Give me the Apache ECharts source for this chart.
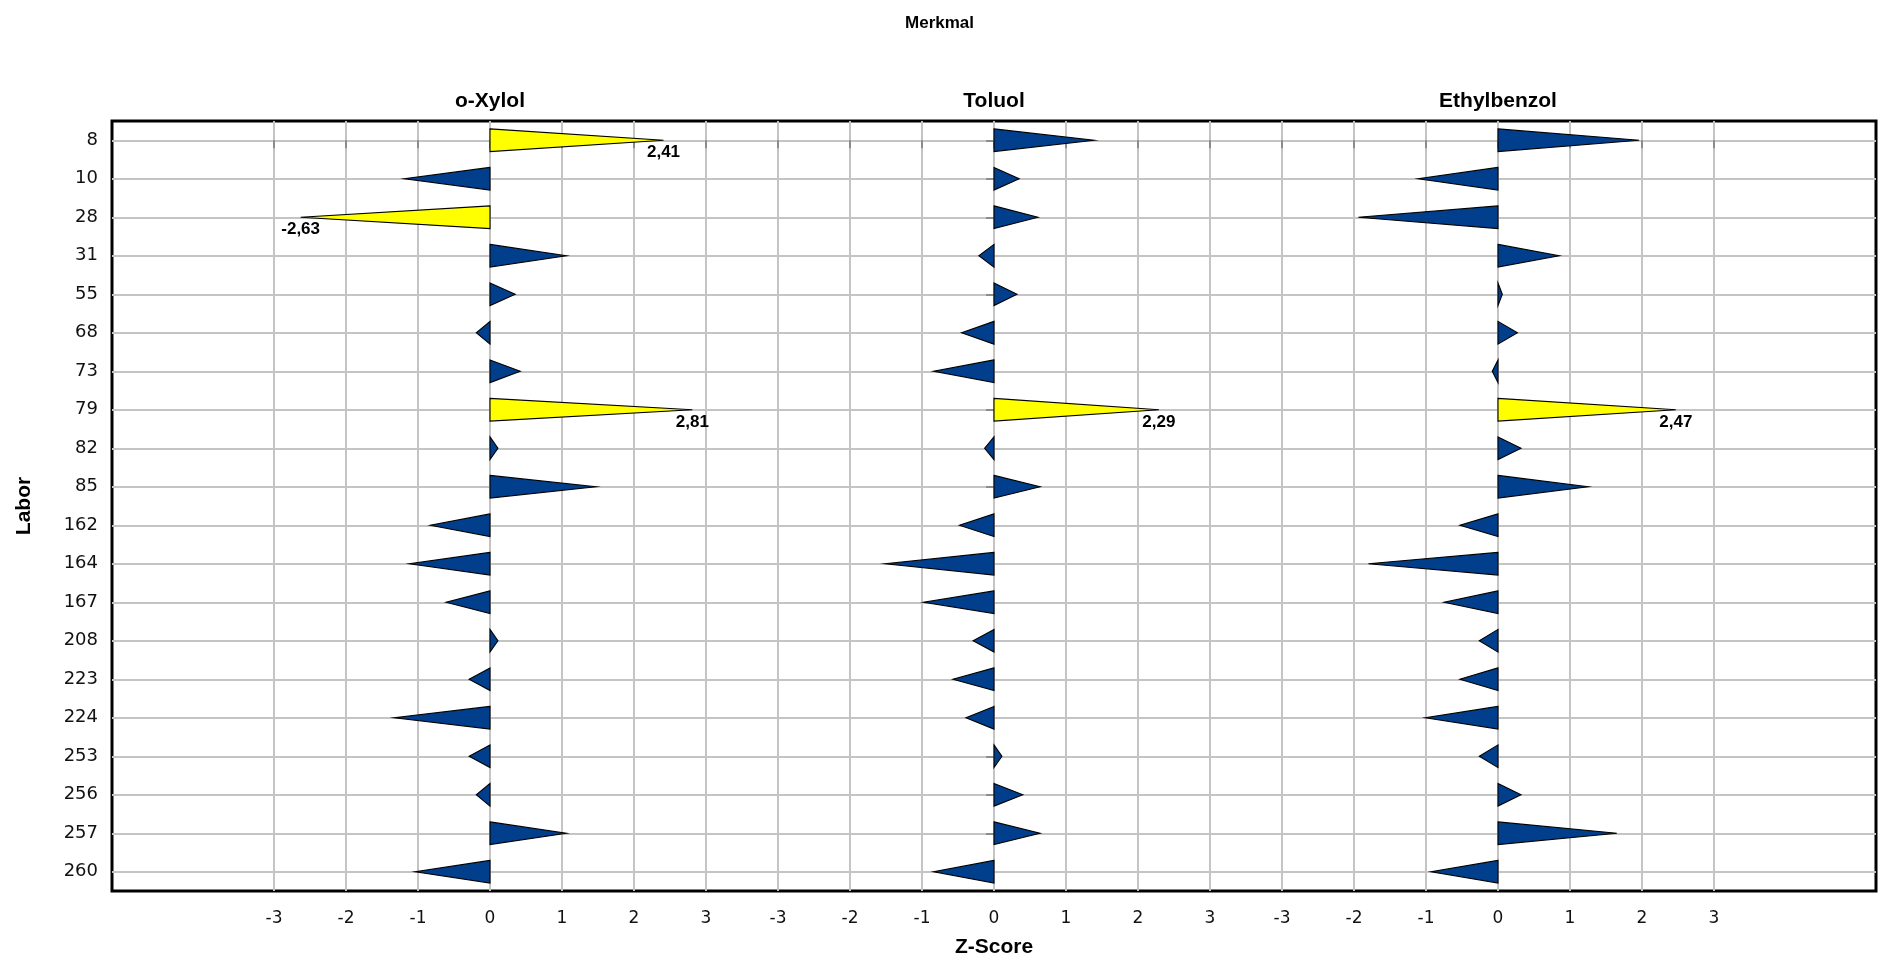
<!DOCTYPE html>
<html>
<head>
<meta charset="utf-8">
<title>Z-Score je Labor und Merkmal</title>
<script src="https://cdn.jsdelivr.net/npm/echarts@6/dist/echarts.min.js"></script>
<style>
  html, body { margin: 0; padding: 0; background: #ffffff; }
  #chart { width: 1879px; height: 964px; }
</style>
</head>
<body>
<div id="chart"></div>
<script>
// Laboratories (rows, top to bottom)
const labs = ['8', '10', '28', '31', '55', '68', '73', '79', '82', '85',
              '162', '164', '167', '208', '223', '224', '253', '256', '257', '260'];

// Feature names, one panel each
const merkmale = ['o-Xylol', 'Toluol', 'Ethylbenzol'];

// Z-scores per feature, same order as labs
const zXylol   = [2.41, -1.19, -2.63, 1.06, 0.35, -0.19, 0.42, 2.81, 0.11, 1.47,
                  -0.83, -1.12, -0.61, 0.11, -0.29, -1.33, -0.29, -0.19, 1.06, -1.04];
const zToluol  = [1.39, 0.35, 0.61, -0.21, 0.32, -0.45, -0.84, 2.29, -0.13, 0.64,
                  -0.48, -1.51, -0.98, -0.29, -0.57, -0.39, 0.11, 0.40, 0.64, -0.84];
const zEthyl   = [1.96, -1.11, -1.94, 0.85, 0.06, 0.27, -0.08, 2.47, 0.32, 1.25,
                  -0.53, -1.80, -0.75, -0.26, -0.53, -1.01, -0.26, 0.32, 1.65, -0.93];

// Tick labels repeated in every panel
const zTicks = ['-3', '-2', '-1', '0', '1', '2', '3'];

// Each panel occupies 7 units of one shared value axis; its zero sits at the centre
const panelCenters = [-7, 0, 7];
const seriesValues = [zXylol, zToluol, zEthyl];

const LIMIT = 2;
const BLUE = '#013f8d';
const YELLOW = '#ffff00';
const FONT = "'Liberation Sans', Arial, sans-serif";
const TICKFONT = "'DejaVu Sans', 'Liberation Sans', sans-serif";

const fmt = v => v.toFixed(2).replace('.', ',');

const tickValues = [];
panelCenters.forEach(c => { for (let k = -3; k <= 3; k++) tickValues.push(c + k); });
const rowValues = labs.map((_, i) => i);

function panelOf(v) {
  return panelCenters.reduce((best, c) => Math.abs(v - c) < Math.abs(v - best) ? c : best, panelCenters[0]);
}

// Triangle from the panel's zero line to the z-score; values beyond ±2 are highlighted and labelled
function makeRender(center) {
  return function (params, api) {
    const row = api.value(1);
    const z = api.value(0);
    const base = api.coord([center, row]);
    const tip = api.coord([center + z, row]);
    const half = api.size([0, 1])[1] * 0.295;
    const out = Math.abs(z) > LIMIT;
    const children = [{
      type: 'polygon',
      shape: { points: [[base[0], base[1] - half], [tip[0], tip[1]], [base[0], base[1] + half]] },
      style: { fill: out ? YELLOW : BLUE, stroke: '#000', lineWidth: 1.1 }
    }];
    if (out) {
      children.push({
        type: 'text',
        style: {
          text: fmt(z), x: tip[0], y: tip[1] + 4, align: 'center', verticalAlign: 'top',
          fill: '#000', font: 'bold 17px ' + FONT
        }
      });
    }
    return { type: 'group', children: children };
  };
}

const series = merkmale.map((name, p) => ({
  type: 'custom',
  name: name,
  renderItem: makeRender(panelCenters[p]),
  data: seriesValues[p].map((z, i) => [z, i]),
  encode: { x: 0, y: 1 },
  clip: false,
  silent: true
}));

// Panel headings above each zero line (axis runs 72 px per unit, centre zero at x = 994)
const panelTitles = merkmale.map((name, p) => ({
  type: 'text',
  x: 994 + panelCenters[p] * 72,
  y: 101,
  style: { text: name, align: 'center', verticalAlign: 'middle', font: 'bold 21px ' + FONT, fill: '#000' }
}));

const chart = echarts.init(document.getElementById('chart'), null, { renderer: 'canvas' });
chart.setOption({
  animation: false,
  backgroundColor: '#ffffff',
  title: {
    text: 'Merkmal', left: 'center', top: 10,
    textStyle: { fontFamily: FONT, fontWeight: 'bold', fontSize: 17, color: '#000' }
  },
  graphic: panelTitles,
  grid: {
    left: 112, right: 3, top: 121, bottom: 73,
    show: true, borderColor: '#000', borderWidth: 3, backgroundColor: 'transparent'
  },
  xAxis: {
    type: 'value', min: -12.25, max: 12.25,
    name: 'Z-Score', nameLocation: 'middle', nameGap: 46,
    nameTextStyle: { fontFamily: FONT, fontWeight: 'bold', fontSize: 21, color: '#000' },
    axisLine: { show: false },
    axisTick: { show: true, customValues: tickValues, length: 8, lineStyle: { color: '#8c8c8c', width: 2 } },
    axisLabel: {
      customValues: tickValues, margin: 19, fontFamily: TICKFONT, fontSize: 17, color: '#111',
      formatter: v => zTicks[Math.round(v - panelOf(v)) + 3]
    },
    splitLine: { show: true, lineStyle: { color: '#c4c4c4', width: 2 } }
  },
  yAxis: {
    type: 'value', min: -0.5, max: 19.5, inverse: true,
    name: 'Labor', nameLocation: 'middle', nameRotate: 90, nameGap: 77,
    nameTextStyle: { fontFamily: FONT, fontWeight: 'bold', fontSize: 21, color: '#000' },
    axisLine: { show: false },
    axisTick: { show: true, customValues: rowValues, length: 8, lineStyle: { color: '#8c8c8c', width: 2 } },
    axisLabel: {
      customValues: rowValues, margin: 14, fontFamily: TICKFONT, fontSize: 18, color: '#111',
      formatter: v => labs[Math.round(v)]
    },
    splitLine: { show: true, lineStyle: { color: '#c4c4c4', width: 2 } }
  },
  series: series
});
</script>
</body>
</html>
